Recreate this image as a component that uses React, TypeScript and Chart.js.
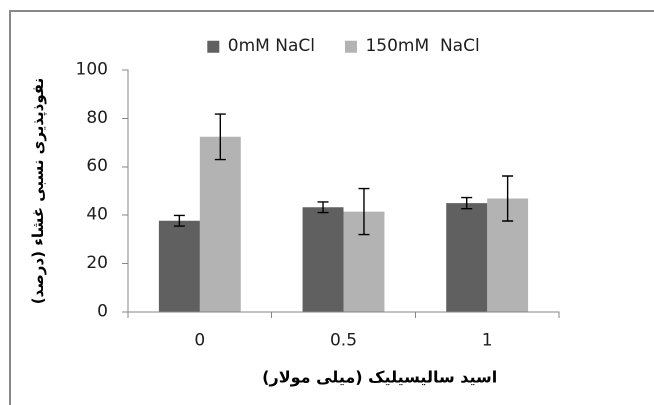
import React, { useEffect, useRef } from "react";
import { Chart, registerables } from "chart.js";

Chart.register(...registerables);

const categories = ["0", "0.5", "1"];
const seriesNames = ["0mM NaCl", "150mM  NaCl"];
const control = [37.7, 43.3, 45.0];
const controlErr = [2.2, 2.2, 2.3];
const salt = [72.4, 41.5, 46.9];
const saltErr = [9.4, 9.5, 9.3];
const yTicks = [0, 20, 40, 60, 80, 100];
const yTitle = "\u200Fنفوذپذیری نسبی غشاء (درصد)\u200F";
const xTitle = "\u00A0".repeat(13) + "\u200Fاسید سالیسیلیک (میلی مولار)\u200F";

const LATIN = "'DejaVu Sans', sans-serif";
const AXIS = "#868686";
const TEXT = "#1e1e1e";

const errorBarPlugin = {
  id: "errorBars",
  afterDatasetsDraw(chart: any) {
    const ctx = chart.ctx;
    const yScale = chart.scales.y;
    const errs = [controlErr, saltErr];
    const vals = [control, salt];
    ctx.save();
    ctx.strokeStyle = "#000";
    ctx.lineWidth = 1.4;
    chart.data.datasets.forEach((_: any, di: number) => {
      const meta = chart.getDatasetMeta(di);
      meta.data.forEach((bar: any, i: number) => {
        const v = vals[di][i];
        const e = errs[di][i];
        const x = bar.x;
        const yTop = yScale.getPixelForValue(v + e);
        const yBot = yScale.getPixelForValue(v - e);
        const cap = 5.5;
        ctx.beginPath();
        ctx.moveTo(x, yTop);
        ctx.lineTo(x, yBot);
        ctx.moveTo(x - cap, yTop);
        ctx.lineTo(x + cap, yTop);
        ctx.moveTo(x - cap, yBot);
        ctx.lineTo(x + cap, yBot);
        ctx.stroke();
      });
    });
    ctx.restore();
  },
};

export default function App() {
  const ref = useRef<HTMLCanvasElement | null>(null);

  useEffect(() => {
    if (!ref.current) return;
    const chart = new Chart(ref.current, {
      type: "bar",
      data: {
        labels: categories,
        datasets: [
          {
            label: seriesNames[0],
            data: control,
            backgroundColor: "#606060",
            borderWidth: 0,
            categoryPercentage: 0.57,
            barPercentage: 1.0,
          },
          {
            label: seriesNames[1],
            data: salt,
            backgroundColor: "#b3b3b3",
            borderWidth: 0,
            categoryPercentage: 0.57,
            barPercentage: 1.0,
          },
        ],
      },
      options: {
        animation: false,
        responsive: true,
        maintainAspectRatio: false,
        devicePixelRatio: 2,
        layout: { padding: { top: 8.2, left: 0, right: 95, bottom: 0 } },
        plugins: {
          tooltip: { enabled: false },
          legend: {
            position: "top",
            fullSize: false,
            labels: {
              boxWidth: 12,
              boxHeight: 12,
              padding: 30,
              color: TEXT,
              font: { family: LATIN, size: 17 },
            },
          },
          subtitle: {
            display: true,
            text: " ",
            weight: 500,
            font: { size: 1 },
            padding: { top: 1.8, bottom: 1.8 },
          },
        },
        scales: {
          x: {
            offset: true,
            grid: {
              offset: true,
              drawOnChartArea: false,
              drawTicks: true,
              tickLength: 6,
              color: AXIS,
            },
            border: { display: true, color: AXIS, width: 1 },
            ticks: { padding: 12.8, color: TEXT, font: { family: LATIN, size: 17 } },
            title: {
              display: true,
              text: xTitle,
              color: "#000",
              font: { family: "'DejaVu Sans', sans-serif", size: 16, weight: "bold" },
              padding: { top: 0, bottom: 17 },
            },
            afterFit: (s: any) => {
              s.height = 93;
            },
          },
          y: {
            min: 0,
            max: 100,
            afterBuildTicks: (s: any) => {
              s.ticks = yTicks.map((v) => ({ value: v }));
            },
            grid: {
              drawOnChartArea: false,
              drawTicks: true,
              tickLength: 6,
              color: AXIS,
            },
            border: { display: true, color: AXIS, width: 1 },
            ticks: { padding: 14, color: TEXT, font: { family: LATIN, size: 17 } },
            title: {
              display: true,
              text: yTitle,
              color: "#000",
              font: { family: "'DejaVu Sans', sans-serif", size: 15, weight: "bold" },
              padding: { top: 30, bottom: 0 },
            },
            afterFit: (s: any) => {
              s.width = 128;
            },
          },
        },
      },
      plugins: [errorBarPlugin],
    } as any);
    return () => chart.destroy();
  }, []);

  return (
    <div
      style={{
        position: "fixed",
        left: 0,
        top: 0,
        width: 654,
        height: 405,
        overflow: "hidden",
        background: "#fff",
      }}
    >
      <div
        style={{
          position: "absolute",
          left: 9,
          top: 10,
          width: 700,
          height: 500,
          borderTop: "2px solid #888",
          borderLeft: "2px solid #888",
        }}
      />
      <div style={{ position: "absolute", left: 0, top: 0, width: 654, height: 405 }}>
        <canvas ref={ref} />
      </div>
    </div>
  );
}
